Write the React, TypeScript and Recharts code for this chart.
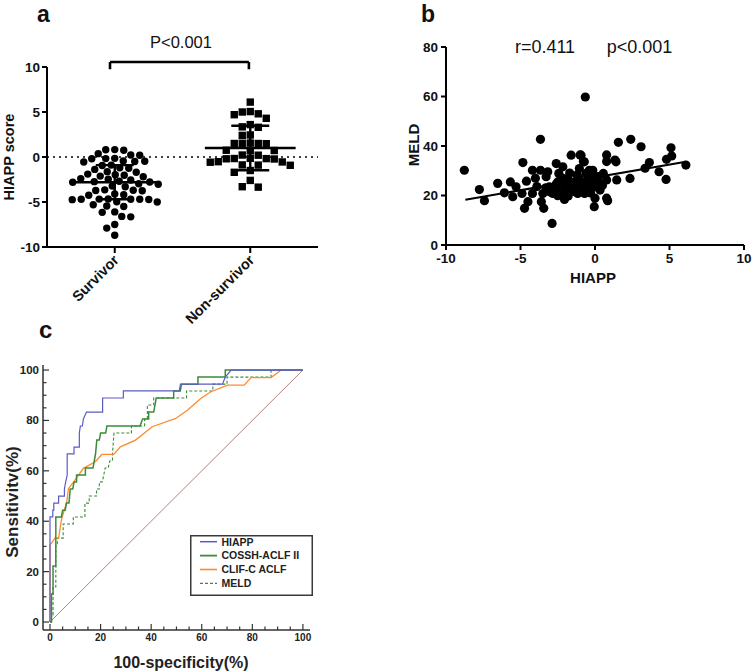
import React from 'react';
import { ComposedChart, Scatter, XAxis, YAxis, ReferenceLine, Line, Legend } from 'recharts';

const FONT = '"Liberation Sans", Arial, Helvetica, sans-serif';

// ---------------- Panel a : HIAPP score by outcome ----------------
const groupNames = ['Survivor', 'Non-survivor'];
const groupCenters = [1, 3];
const aTicks = [-10, -5, 0, 5, 10];
const survivorScores = [
  0.8, 0.82, 0.75, 0.37, 0.2, 0.22,
  -0.18, -0.2, -0.15, -0.5, -0.48, -0.55, -0.45, -0.9, -0.95, -1.2, -1.25,
  -1.38, -1.63, -1.7, -1.9, -2.02, -2.12,
  -2.2, -2.4, -2.47, -2.56, -2.7, -2.77, -2.8,
  -2.97, -3.02, -3.22, -3.3, -1.98, -2.74,
  -3.65, -3.7, -3.72, -3.75, -4.1, -4.2, -4.25,
  -4.7, -4.68, -4.72, -4.7, -4.66, -4.74, -4.7, -5.0, -4.98,
  -5.5, -5.45, -5.3, -6.1, -6.15, -6.65, -6.6, -7.5, -7.9, -8.7,
];
const nonSurvivorScores = [
  6.1, 5.0, 5.05, 4.8, 4.7, 4.3, 3.6, 3.3, 3.35, 2.4, 2.45,
  1.5, 1.52, 1.48, 1.5, 1.55, 0.72, 0.75, 0.7, 0.2, 0.22,
  -0.18, -0.2, -0.15, -0.22, -0.17, -0.55, -0.58, -0.52, -0.9, -0.92, -0.88,
  -1.5, -1.7, -2.6, -3.3, -3.35,
];
const groupMeans = [-2.8, 1.0];
const groupSDs = [1.9, 2.48];
const bracketX = [0.93, 2.98];
const bracketY = [10.55, 9.75];

// ---------------- Panel b : MELD vs HIAPP ----------------
const bX = [-10, -5, 0, 5, 10];
const bY = [0, 20, 40, 60, 80];
const hiappValues = [
  -8.77, -7.76, -7.42, -6.53, -6.08, -5.68, -5.52, -5.3, -4.84, -4.9, -4.6, -4.73, -4.5, -4.2, -4.2,
  -3.66, -3.66, -3.6, -3.5, -3.44, -3.28, -3.17, -2.88, -3.06, -2.83, -2.6, -2.5, -2.43, -2.39, -2.16,
  -2.05, -2.05, -1.83, -1.72, -1.6, -1.38, -1.27, -1.16, -1.05, -0.94, -0.83, -0.72, -0.65, -0.6, -0.49,
  -0.38, -0.2, -0.15, 0, 0, -0.05, 0.22, 0.34, 0.56, 0.78, 0.78, 0.78, 0.78, 0.85, 1.46, 1.41, 1.57, 1.34,
  2.35, 2.4, 3.09, 3.36, 3.65, 4.3, 4.77, 4.8, 5.1, 5.15, 6.1,
  -2.7, -2.3, -1.9, -1.5, -1.1, -0.9, -3.0, -2.2, -1.7, -0.5, -0.3, -2.6, -1.4, -3.3, 0.3, -1.0, -0.7,
  -2.0, -1.2, -3.9, -4.0, -1.8, -0.1, 0.5, -2.5, -1.0, -0.78,
];
const meldValues = [
  30.2, 22.4, 17.9, 24.9, 21.1, 25.5, 19.5, 23.5, 33.3, 20.8, 25.8, 14.8, 17.5, 20.8, 30.2,
  42.7, 30.2, 17.5, 20.8, 14.8, 27.6, 29.6, 8.7, 23.5, 20.8, 32.9, 25.5, 28.9, 20.8, 31.6,
  23.5, 18.4, 26.9, 22.2, 36.3, 25.5, 22.8, 20.8, 30.9, 36.3, 25.5, 33.6, 59.8, 28.9, 23.5,
  30.2, 26.2, 30.2, 23.5, 18.9, 15.5, 27.6, 22.2, 28.9, 26.3, 36.4, 33.7, 18.9, 17.9, 26.3, 33.6, 41.5, 34.3,
  26.9, 42.7, 39.7, 31.0, 33.3, 29.6, 26.5, 34.6, 39.3, 36.0, 32.3,
  22.1, 24.2, 21.0, 24.1, 27.2, 22.6, 21.4, 27.0, 29.1, 26.1, 21.0, 24.6, 21.6, 23.1, 25.0, 24.4, 20.8,
  25.7, 28.3, 23.6, 27.0, 19.8, 28.4, 24.0, 19.9, 36.4, 33.7,
];
const fitHiapp = [-8.7, 6.1];
const fitMeld = [18.3, 33.6];

// ---------------- Panel c : ROC curves ----------------
const rocTicks = [0, 5, 10, 15, 20, 25, 30, 35, 40, 45, 50, 55, 60, 65, 70, 75, 80, 85, 90, 95, 100];
const hiappFpr = [0, 0, 1.1, 1.1, 1.5, 1.5, 3.4, 3.4, 5.7, 5.7, 6.2, 6.8, 6.8, 9.5, 9.5, 11.6, 11.6, 12.0, 12.8, 13.2, 14.4, 20.8, 20.8, 29.0, 29.0, 51.1, 51.6, 68.2, 69.3, 71.6, 100];
const hiappTpr = [0, 41.7, 41.7, 44.4, 44.4, 47.2, 47.2, 50.0, 50.0, 52.8, 55.6, 58.3, 66.7, 66.7, 69.4, 69.4, 75.0, 77.8, 77.8, 80.6, 83.3, 83.3, 88.9, 88.9, 91.7, 91.7, 94.4, 94.4, 97.2, 100, 100];
const cosshFpr = [0, 0.6, 0.6, 1.2, 1.2, 2.3, 2.3, 4.5, 5.0, 6.0, 6.5, 7.5, 8.0, 9.0, 9.5, 10.5, 10.5, 14.0, 14.0, 17.0, 17.5, 18.0, 18.5, 19.5, 20.0, 22.0, 22.5, 35.6, 36.6, 39.0, 39.0, 41.0, 42.0, 48.9, 48.9, 51.5, 52.0, 58.5, 58.5, 69.3, 69.3, 100];
const cosshTpr = [0, 0, 11.1, 11.1, 22.2, 22.2, 41.7, 41.7, 44.4, 44.4, 47.2, 47.2, 52.8, 52.8, 55.6, 55.6, 58.3, 58.3, 61.1, 61.1, 63.9, 66.7, 72.2, 72.2, 75.0, 75.0, 77.8, 77.8, 80.6, 80.6, 83.3, 83.3, 88.9, 88.9, 91.7, 91.7, 94.4, 94.4, 97.2, 97.2, 100, 100];
const clifFpr = [0, 0, 2.0, 3.4, 4.6, 6.6, 7.3, 9.3, 11.3, 13.2, 17.9, 20.5, 25.2, 27.8, 33.8, 40.4, 49.7, 54.3, 59.6, 63.6, 70.2, 76.8, 79.5, 87.4, 91.4, 100];
const clifTpr = [0, 30.6, 33.3, 33.3, 41.0, 47.5, 53.0, 55.5, 58.3, 61.0, 63.6, 66.5, 66.5, 69.5, 72.2, 77.5, 80.8, 84.0, 88.7, 91.4, 94.0, 94.0, 97.0, 97.0, 100, 100];
const meldFpr = [0, 0.6, 0.6, 1.2, 1.2, 2.3, 2.3, 2.9, 2.9, 5.2, 5.2, 9.2, 9.2, 13.8, 13.8, 15.5, 15.5, 18.4, 18.4, 19.5, 19.5, 20.7, 21.8, 23.0, 23.6, 24.7, 24.7, 25.3, 32.2, 32.2, 37.4, 37.4, 38.5, 38.5, 41.0, 41.0, 54.0, 54.0, 64.4, 64.4, 70.0, 70.0, 87.4, 87.4, 100];
const meldTpr = [0, 0, 2.8, 2.8, 13.9, 13.9, 30.6, 30.6, 33.3, 33.3, 38.9, 38.9, 41.7, 41.7, 47.2, 47.2, 50.0, 50.0, 52.8, 52.8, 55.6, 55.6, 61.1, 61.1, 63.9, 63.9, 66.7, 75.0, 75.0, 77.8, 77.8, 80.6, 80.6, 86.1, 86.1, 88.9, 88.9, 91.7, 91.7, 94.4, 94.4, 97.2, 97.2, 100, 100];
const chanceFpr = [0, 100];
const chanceTpr = [0, 100];

const rocSeries = [
  { name: 'HIAPP', fpr: hiappFpr, tpr: hiappTpr, color: '#5b5bc6', width: 1.2, dash: undefined as string | undefined },
  { name: 'COSSH-ACLF II', fpr: cosshFpr, tpr: cosshTpr, color: '#3a8c3a', width: 1.5, dash: undefined },
  { name: 'CLIF-C ACLF', fpr: clifFpr, tpr: clifTpr, color: '#ff8a2e', width: 1.3, dash: undefined },
  { name: 'MELD', fpr: meldFpr, tpr: meldTpr, color: '#3a8c3a', width: 1.1, dash: '3 2' },
];

// ---------------- helpers ----------------
function zip(xs: number[], ys: number[]) {
  return xs.map((x, i) => ({ x, y: ys[i] }));
}

// Scatter-dot-plot placement computed from the values (pixel scale of panel a):
// points closer than (dx, dy) are spread sideways, as a Prism column scatter does.
function spread(values: number[], center: number, pxPerY: number, pxPerX: number, dx: number, dy: number, box: boolean) {
  const sorted = [...values].sort((a, b) => b - a);
  const placed: { x: number; y: number }[] = [];
  const out: { x: number; y: number }[] = [];
  for (const v of sorted) {
    const py = v * pxPerY;
    let best = 0;
    for (let k = 0; k < 800; k++) {
      const off = (k % 2 === 1 ? -1 : 1) * Math.ceil(k / 2) * 0.5;
      const ok = placed.every((p) => {
        const ex = (p.x - off) / dx;
        const ey = (p.y - py) / dy;
        return box ? Math.abs(ex) >= 1 || Math.abs(ey) >= 1 : ex * ex + ey * ey >= 1;
      });
      if (ok) { best = off; break; }
    }
    placed.push({ x: best, y: py });
    out.push({ x: center + best / pxPerX, y: v });
  }
  return out;
}

const A_PX_Y = 9;
const A_PX_X = 67.75;
const survivorPoints = spread(survivorScores, groupCenters[0], A_PX_Y, A_PX_X, 8.8, 7.2, false);
const nonSurvivorPoints = spread(nonSurvivorScores, groupCenters[1], A_PX_Y, A_PX_X, 7.6, 7.6, true);
const bPoints = zip(hiappValues, meldValues);

// mean ± SD bars (from the summary values)
const errorSegments = groupCenters.flatMap((c, i) => {
  const m = groupMeans[i];
  const hi = m + groupSDs[i];
  const lo = m - groupSDs[i];
  return [
    [{ x: c - 0.67, y: m }, { x: c + 0.67, y: m }],
    [{ x: c, y: lo }, { x: c, y: hi }],
    [{ x: c - 0.28, y: hi }, { x: c + 0.28, y: hi }],
    [{ x: c - 0.28, y: lo }, { x: c + 0.28, y: lo }],
  ];
});

const CircleShape = (p: any) => <circle cx={p.cx} cy={p.cy} r={3.7} fill="#000" />;
const SquareShape = (p: any) => <rect x={p.cx - 3.7} y={p.cy - 3.7} width={7.4} height={7.4} fill="#000" />;
const BDot = (p: any) => <circle cx={p.cx} cy={p.cy} r={4.6} fill="#000" />;
const NoShape = () => <g />;

const CatTick = (props: any) => {
  const { x, y, payload } = props;
  const idx = groupCenters.indexOf(payload.value);
  const ax = x + 5;
  const ay = y + 6;
  return (
    <text x={ax} y={ay} transform={`rotate(-45 ${ax} ${ay})`} textAnchor="end" fontSize={14.5}
      fontWeight="bold" fill="#111" fontFamily={FONT}>{groupNames[idx]}</text>
  );
};

const RocXTick = (props: any) => {
  const { x, y, payload } = props;
  const major = payload.value % 20 === 0;
  return (
    <g>
      <line x1={x} x2={x} y1={y} y2={y - (major ? 6 : 3.5)} stroke="#333" strokeWidth={1.2} />
      {major && (
        <text x={x} y={y + 10.5} textAnchor="middle" fontSize={10} fontWeight="bold" fill="#222" fontFamily={FONT}>
          {payload.value}
        </text>
      )}
    </g>
  );
};

const RocYTick = (props: any) => {
  const { x, y, payload } = props;
  const major = payload.value % 20 === 0;
  return (
    <g>
      <line x1={x} x2={x + (major ? 6 : 3.5)} y1={y} y2={y} stroke="#333" strokeWidth={1.2} />
      {major && (
        <text x={x - 4} y={y + 4} textAnchor="end" fontSize={11.5} fontWeight="bold" fill="#222" fontFamily={FONT}>
          {payload.value}
        </text>
      )}
    </g>
  );
};

const RocLegend = () => (
  <svg width={123} height={61} style={{ display: 'block' }}>
    <rect x={0.75} y={0.75} width={121.5} height={59.5} fill="#fff" stroke="#3a3a3a" strokeWidth={1.5} />
    {rocSeries.map((s, i) => {
      const cy = 6.7 + i * 13.9;
      return (
        <g key={s.name}>
          <line x1={10} x2={27} y1={cy} y2={cy} stroke={s.color} strokeWidth={s.width + 0.3} strokeDasharray={s.dash} />
          <text x={31.5} y={cy + 3.8} fontSize={10.5} fontWeight="bold" fill="#222" fontFamily={FONT}>{s.name}</text>
        </g>
      );
    })}
  </svg>
);

const axisBlack = { stroke: '#000', strokeWidth: 2 };

export default function App() {
  return (
    <div style={{ position: 'absolute', left: 0, top: 0, width: 752, height: 672, background: '#fff', overflow: 'hidden' }}>
      {/* Panel a */}
      <div style={{ position: 'absolute', left: 0, top: 0 }}>
        <ComposedChart width={376} height={340} margin={{ top: 67, right: 58, bottom: 13, left: 7 }}>
          <XAxis type="number" dataKey="x" domain={[0, 4]} ticks={groupCenters} interval={0} height={80}
            tick={<CatTick />} tickSize={6} tickMargin={2} tickLine={axisBlack} axisLine={axisBlack} allowDataOverflow />
          <YAxis type="number" dataKey="y" domain={[-10, 10]} ticks={aTicks} interval={0} width={40}
            tickSize={5} tickMargin={2} tickLine={axisBlack} axisLine={axisBlack} allowDataOverflow
            tick={{ fontSize: 13.5, fontWeight: 'bold', fill: '#111', fontFamily: FONT }} />
          <ReferenceLine y={0} stroke="#000" strokeWidth={1.6} strokeDasharray="2 4" />
          <Scatter data={survivorPoints} dataKey="y" shape={CircleShape} isAnimationActive={false} />
          <Scatter data={nonSurvivorPoints} dataKey="y" shape={SquareShape} isAnimationActive={false} />
          {errorSegments.map((seg, i) => (
            <Scatter key={'e' + i} data={seg} dataKey="y" shape={NoShape} line={{ stroke: '#000', strokeWidth: 2.4 }}
              lineType="joint" isAnimationActive={false} />
          ))}
          <ReferenceLine segment={[{ x: bracketX[0], y: bracketY[0] }, { x: bracketX[1], y: bracketY[0] }]} stroke="#000" strokeWidth={2.6} ifOverflow="visible" />
          <ReferenceLine segment={[{ x: bracketX[0], y: bracketY[0] }, { x: bracketX[0], y: bracketY[1] }]} stroke="#000" strokeWidth={2.6} ifOverflow="visible" />
          <ReferenceLine segment={[{ x: bracketX[1], y: bracketY[0] }, { x: bracketX[1], y: bracketY[1] }]} stroke="#000" strokeWidth={2.6} ifOverflow="visible" />
        </ComposedChart>
      </div>

      {/* Panel b */}
      <div style={{ position: 'absolute', left: 376, top: 0 }}>
        <ComposedChart width={376} height={295} margin={{ top: 47, right: 8, bottom: 20, left: 30 }}>
          <XAxis type="number" dataKey="x" domain={[-10, 10]} ticks={bX} interval={0} height={30}
            tickSize={5} tickMargin={3} tickLine={axisBlack} axisLine={axisBlack} allowDataOverflow
            tick={{ fontSize: 13.5, fontWeight: 'bold', fill: '#111', fontFamily: FONT }} />
          <YAxis type="number" dataKey="y" domain={[0, 80]} ticks={bY} interval={0} width={40}
            tickSize={5} tickMargin={3} tickLine={axisBlack} axisLine={axisBlack} allowDataOverflow
            tick={{ fontSize: 13.5, fontWeight: 'bold', fill: '#111', fontFamily: FONT }} />
          <Scatter data={bPoints} dataKey="y" shape={BDot} isAnimationActive={false} />
          <Scatter data={zip(fitHiapp, fitMeld)} dataKey="y" shape={NoShape} line={{ stroke: '#000', strokeWidth: 2 }}
            lineType="joint" isAnimationActive={false} />
        </ComposedChart>
      </div>

      {/* Panel c */}
      <div style={{ position: 'absolute', left: 0, top: 332 }}>
        <ComposedChart width={376} height={340} margin={{ top: 33, right: 66, bottom: 12, left: 13 }}>
          <XAxis type="number" dataKey="x" domain={[-2.77, 102.8]} ticks={rocTicks} interval={0} height={30}
            tickSize={0} tickMargin={0} tickLine={false} axisLine={{ stroke: '#333', strokeWidth: 1.5 }}
            tick={<RocXTick />} allowDataOverflow />
          <YAxis type="number" dataKey="y" domain={[-3.17, 102]} ticks={rocTicks} interval={0} width={30}
            tickSize={0} tickMargin={0} tickLine={false} axisLine={{ stroke: '#333', strokeWidth: 1.5 }}
            tick={<RocYTick />} allowDataOverflow />
          <Line data={zip(chanceFpr, chanceTpr)} dataKey="y" stroke="#b07070" strokeWidth={0.9} dot={false}
            isAnimationActive={false} legendType="none" />
          {rocSeries.slice().reverse().map((s) => (
            <Line key={s.name} data={zip(s.fpr, s.tpr)} dataKey="y" name={s.name} stroke={s.color}
              strokeWidth={s.width} strokeDasharray={s.dash} dot={false} isAnimationActive={false} type="linear" />
          ))}
          <Legend layout="vertical" align="center" verticalAlign="middle" content={<RocLegend />}
            wrapperStyle={{ left: 190, top: 203, width: 123, height: 61 }} />
        </ComposedChart>
      </div>

      {/* Titles and annotations */}
      <svg width={752} height={672} style={{ position: 'absolute', left: 0, top: 0, pointerEvents: 'none' }} fontFamily={FONT}>
        <text x={37} y={22} fontSize={23} fontWeight="bold" fill="#111">a</text>
        <text x={421} y={22} fontSize={23} fontWeight="bold" fill="#111">b</text>
        <text x={39} y={338} fontSize={24} fontWeight="bold" fill="#111">c</text>
        <text x={181} y={48} fontSize={16.5} textAnchor="middle" fill="#111">{'P<0.001'}</text>
        <text x={14} y={157} fontSize={14.5} fontWeight="bold" textAnchor="middle" fill="#111" transform="rotate(-90 14 157)">HIAPP score</text>
        <text x={545} y={53} fontSize={18} textAnchor="middle" fill="#111">r=0.411</text>
        <text x={639.5} y={53} fontSize={18} textAnchor="middle" fill="#111">{'p<0.001'}</text>
        <text x={419} y={145} fontSize={15} fontWeight="bold" textAnchor="middle" fill="#111" transform="rotate(-90 419 145)">MELD</text>
        <text x={593} y={283} fontSize={15} fontWeight="bold" textAnchor="middle" fill="#111">HIAPP</text>
        <text x={18} y={502} fontSize={17} fontWeight="bold" textAnchor="middle" fill="#222" transform="rotate(-90 18 502)">Sensitivitv(%)</text>
        <text x={181} y={668} fontSize={16} fontWeight="bold" textAnchor="middle" fill="#222">100-specificity(%)</text>
      </svg>
    </div>
  );
}
